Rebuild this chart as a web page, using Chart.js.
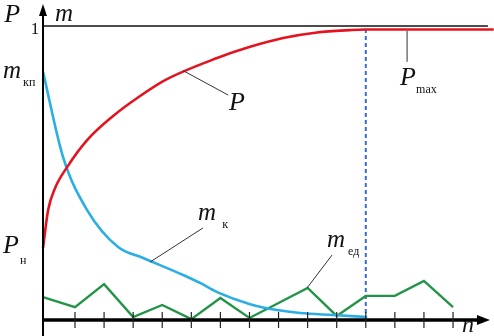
<!DOCTYPE html>
<html>
<head>
<meta charset="utf-8">
<script src="https://cdn.jsdelivr.net/npm/chart.js@4/dist/chart.umd.min.js"></script>
<style>
html,body{margin:0;padding:0;background:#fff;}
#wrap{width:494px;height:336px;position:relative;}
</style>
</head>
<body>
<div id="wrap"><canvas id="c" width="494" height="336"></canvas></div>
<script>
// ---- data (n = step number, values normalised so that 1 = top line) ----
const pN   = [-0.1, 0.076, 0.316, 0.729, 1.417, 2.311, 3.239, 4.099, 5.887, 7.022, 8.157, 9.326, 10.461, 10.98, 15.4];
const pVal = [0.245, 0.374, 0.449, 0.520, 0.612, 0.694, 0.762, 0.816, 0.891, 0.929, 0.959, 0.978, 0.986, 0.988, 0.988];

const mkN   = [-0.1, 0.59, 1.417, 2.483, 3.342, 4.718, 5.30, 5.887, 7.022, 7.95, 8.74, 9.87, 11.05];
const mkVal = [0.844, 0.554, 0.374, 0.248, 0.211, 0.153, 0.126, 0.095, 0.054, 0.034, 0.024, 0.017, 0.010];

const medN   = [-0.1, 1, 2, 3, 4, 5, 6, 7, 8, 9, 10, 11, 12, 13, 14];
const medVal = [0.078, 0.044, 0.122, 0.010, 0.051, 0.003, 0.075, 0.007, 0.058, 0.109, 0.014, 0.082, 0.082, 0.133, 0.044];

const nTicks = [1, 2, 3, 4, 5, 6, 7, 8, 9, 10, 11, 12, 13, 14];
const pMaxN = 11;      // step where P reaches P_max (dashed line)
const topLevel = 1;    // the "1" line

const toPts = (xs, ys) => xs.map((x, i) => ({x: x, y: ys[i]}));

const SERIF = '"Liberation Serif", "DejaVu Serif", serif';

const overlay = {
  id: 'overlay',
  beforeDatasetsDraw(chart) {
    const ctx = chart.ctx, xs = chart.scales.x, ys = chart.scales.y;
    const X = v => xs.getPixelForValue(v), Y = v => ys.getPixelForValue(v);
    ctx.save();
    ctx.strokeStyle = '#111'; ctx.lineWidth = 1.5;
    ctx.beginPath(); ctx.moveTo(X(-0.1), Y(topLevel)); ctx.lineTo(X(15.2), Y(topLevel)); ctx.stroke();
    ctx.strokeStyle = '#3a6bd4'; ctx.lineWidth = 2; ctx.setLineDash([4, 3]);
    ctx.beginPath(); ctx.moveTo(X(pMaxN), Y(0)); ctx.lineTo(X(pMaxN), Y(0.99)); ctx.stroke();
    ctx.setLineDash([]);
    ctx.restore();
  },
  afterDatasetsDraw(chart) {
    const ctx = chart.ctx, xs = chart.scales.x, ys = chart.scales.y;
    const X = v => xs.getPixelForValue(v), Y = v => ys.getPixelForValue(v);
    ctx.save();
    ctx.strokeStyle = '#000'; ctx.fillStyle = '#000';
    const ox = X(-0.1), oy = Y(0);
    ctx.lineWidth = 2;
    ctx.beginPath(); ctx.moveTo(ox, Y(-0.06)); ctx.lineTo(ox, Y(1.06)); ctx.stroke();
    ctx.beginPath(); ctx.moveTo(ox, Y(1.075)); ctx.lineTo(ox - 4, Y(1.075) + 12); ctx.lineTo(ox + 4, Y(1.075) + 12); ctx.closePath(); ctx.fill();
    ctx.lineWidth = 3.5;
    ctx.beginPath(); ctx.moveTo(ox, oy); ctx.lineTo(X(15.0), oy); ctx.stroke();
    const tipX = X(15.27);
    ctx.beginPath(); ctx.moveTo(tipX, oy); ctx.lineTo(tipX - 13, oy - 5); ctx.lineTo(tipX - 13, oy + 5); ctx.closePath(); ctx.fill();
    ctx.lineWidth = 1.2; ctx.strokeStyle = '#222';
    nTicks.forEach(t => { ctx.beginPath(); ctx.moveTo(X(t), oy - 8); ctx.lineTo(X(t), oy + 8); ctx.stroke(); });
    ctx.strokeStyle = '#333'; ctx.lineWidth = 1;
    const seg = (a, b, c, d) => { ctx.beginPath(); ctx.moveTo(X(a), Y(b)); ctx.lineTo(X(c), Y(d)); ctx.stroke(); };
    seg(4.72, 0.848, 6.27, 0.765);
    seg(3.58, 0.197, 5.40, 0.313);
    seg(8.98, 0.109, 9.84, 0.221);
    seg(12.42, 0.983, 12.42, 0.878);
    ctx.fillStyle = '#111'; ctx.textBaseline = 'alphabetic'; ctx.textAlign = 'left';
    const txt = (s, n, v, font) => { ctx.font = font; ctx.fillText(s, X(n), Y(v)); };
    const big = 'italic 26px ' + SERIF, mid = 'italic 25px ' + SERIF, sub = '12px ' + SERIF;
    txt('P', -1.437, 1.0136, big);
    txt('m', 0.316, 1.017, mid);
    txt('1', -0.52, 0.973, '17px ' + SERIF);
    txt('m', -1.472, 0.823, mid);  txt('кп', -0.784, 0.796, sub);
    txt('P', -1.472, 0.228, big);  txt('н', -0.887, 0.190, sub);
    txt('P', 6.30, 0.714, big);
    txt('m', 5.23, 0.340, mid);    txt('к', 6.06, 0.313, sub);
    txt('m', 9.67, 0.248, mid);    txt('ед', 10.39, 0.221, sub);
    txt('P', 12.18, 0.799, big);   txt('max', 12.73, 0.772, sub);
    txt('n', 14.31, -0.041, 'italic 24px ' + SERIF);
    ctx.restore();
  }
};

new Chart(document.getElementById('c'), {
  type: 'line',
  data: {
    datasets: [
      { label: 'P', data: toPts(pN, pVal), borderColor: '#e3141f', borderWidth: 2.6,
        cubicInterpolationMode: 'monotone', pointRadius: 0, fill: false },
      { label: 'm_к', data: toPts(mkN, mkVal), borderColor: '#2aaee3', borderWidth: 2.6,
        cubicInterpolationMode: 'monotone', pointRadius: 0, fill: false },
      { label: 'm_ед', data: toPts(medN, medVal), borderColor: '#239447', borderWidth: 2.4,
        tension: 0, pointRadius: 0, fill: false }
    ]
  },
  options: {
    responsive: false,
    animation: false,
    devicePixelRatio: 1,
    layout: { padding: 0 },
    plugins: { legend: { display: false }, tooltip: { enabled: false } },
    scales: {
      x: { type: 'linear', display: false, min: -1.579, max: 15.409 },
      y: { type: 'linear', display: false, min: -0.0544, max: 1.0884 }
    }
  },
  plugins: [overlay]
});
</script>
</body>
</html>
